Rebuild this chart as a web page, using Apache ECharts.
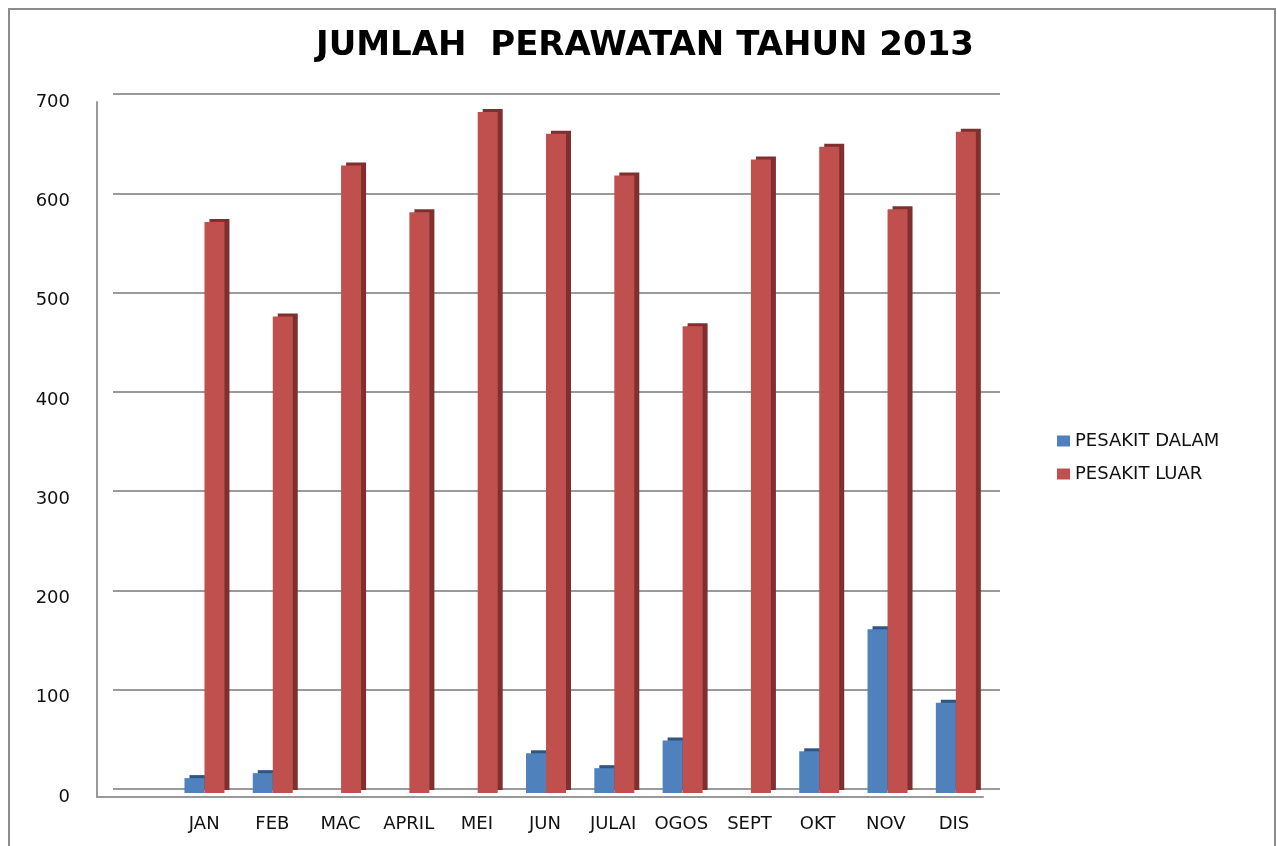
<!DOCTYPE html>
<html>
<head>
<meta charset="utf-8">
<script src="https://cdn.jsdelivr.net/npm/echarts@6/dist/echarts.min.js"></script>
<style>
html,body{margin:0;padding:0;background:#fff;}
#chart{width:1277px;height:846px;position:relative;}
#frame{position:absolute;left:8px;top:8px;width:1264px;height:860px;border:2px solid #8c8c8c;pointer-events:none;}
</style>
</head>
<body>
<div id="chart"></div>
<div id="frame"></div>
<script>
const titleText = 'JUMLAH  PERAWATAN TAHUN 2013';
const categories = ['', 'JAN', 'FEB', 'MAC', 'APRIL', 'MEI', 'JUN', 'JULAI', 'OGOS', 'SEPT', 'OKT', 'NOV', 'DIS'];
const seriesNames = ['PESAKIT DALAM', 'PESAKIT LUAR'];
const pesakitDalam = [null, 15, 20, 0, 0, 0, 40, 25, 53, 0, 42, 165, 91];
const pesakitLuar = [null, 575, 480, 632, 585, 686, 664, 622, 470, 638, 651, 588, 666];
const yTicks = [0, 100, 200, 300, 400, 500, 600, 700];

const chart = echarts.init(document.getElementById('chart'));
const fontFam = '"DejaVu Sans", Lato, sans-serif';
const yMin = yTicks[0], yMax = yTicks[yTicks.length - 1];
chart.setOption({
  animation: false,
  backgroundColor: '#ffffff',
  title: {
    text: titleText,
    left: 640, textAlign: 'center', top: 24,
    textStyle: {fontFamily: fontFam, fontWeight: 'bold', fontSize: 34, color: '#000'}
  },
  legend: {
    orient: 'vertical', left: 1052, top: 427, itemGap: 15,
    itemWidth: 13, itemHeight: 11, icon: 'rect',
    data: seriesNames,
    textStyle: {fontFamily: fontFam, fontSize: 18, color: '#111'}
  },
  grid: [
    {left: 97, right: 294, top: 102, bottom: 49},
    {left: 113, right: 277, top: 94, bottom: 57},
    {left: 102, right: 287, top: 98, bottom: 53}
  ],
  xAxis: [
    {type: 'category', gridIndex: 0, data: categories,
     axisLine: {show: true, lineStyle: {color: '#999', width: 2}},
     axisTick: {show: false},
     axisLabel: {margin: 18, padding: [0, 0, 0, 10], fontFamily: fontFam, fontSize: 18, color: '#111', interval: 0}},
    {type: 'category', gridIndex: 1, data: categories, show: false},
    {type: 'category', gridIndex: 2, data: categories, show: false}
  ],
  yAxis: [
    {type: 'value', gridIndex: 0, min: yMin, max: yMax, interval: 100,
     axisLine: {show: true, lineStyle: {color: '#999', width: 2}},
     axisTick: {show: false},
     splitLine: {show: false},
     axisLabel: {margin: 27, fontFamily: fontFam, fontSize: 18, color: '#111'}},
    {type: 'value', gridIndex: 1, min: yMin, max: yMax, interval: 100,
     axisLine: {show: false}, axisTick: {show: false}, axisLabel: {show: false},
     splitLine: {show: true, lineStyle: {color: '#9a9a9a', width: 2}}},
    {type: 'value', gridIndex: 2, min: yMin, max: yMax, interval: 100, show: false,
     splitLine: {show: false}}
  ],
  series: [
    {name: seriesNames[0], type: 'bar', xAxisIndex: 2, yAxisIndex: 2, data: pesakitDalam,
     barWidth: 20, barGap: '0%',
     itemStyle: {color: '#4F81BD', shadowColor: '#2E5583', shadowOffsetX: 5, shadowOffsetY: -3, shadowBlur: 0}},
    {name: seriesNames[1], type: 'bar', xAxisIndex: 2, yAxisIndex: 2, data: pesakitLuar,
     barWidth: 20, barGap: '0%',
     itemStyle: {color: '#C0504D', shadowColor: '#7F302E', shadowOffsetX: 5, shadowOffsetY: -3, shadowBlur: 0}}
  ]
});
</script>
</body>
</html>
